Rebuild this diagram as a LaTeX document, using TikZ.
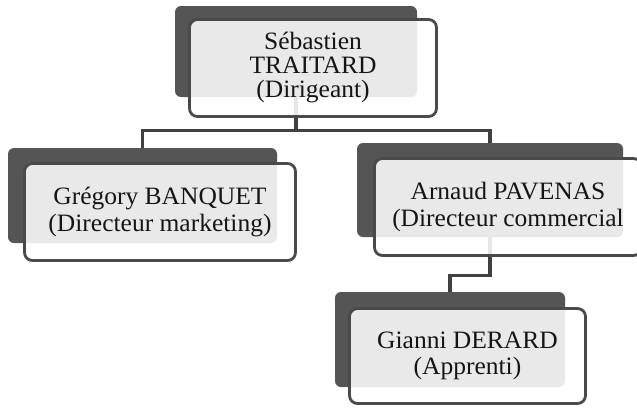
\documentclass[tikz,border=0pt]{standalone}
\usepackage{fontspec}
\setmainfont{Liberation Serif}[FakeStretch=1.02]
\begin{document}
\begin{tikzpicture}[x=1pt,y=-1pt,
  backbox/.style={draw=none, fill=backgray, rounded corners=6pt, inner sep=0pt},
  frontbox/.style={draw=linegray, line width=2.8pt, rounded corners=8pt, fill=white,
     fill opacity=0.87, text opacity=1, inner sep=0pt, align=center,
     font=\fontsize{25}{26.5}\selectfont, text=textgray},
  link/.style={draw=linkgray, line width=3.2pt}
]
\definecolor{backgray}{HTML}{555555}
\definecolor{linegray}{HTML}{4A4A4A}
\definecolor{linkgray}{HTML}{404040}
\definecolor{textgray}{HTML}{151515}
\useasboundingbox (0,0) rectangle (637,408);
% back boxes
\node[backbox, minimum width=242pt, minimum height=91pt] (b1) at (296,51.5) {};
\node[backbox, minimum width=269pt, minimum height=95pt] (b2) at (142.5,195.5) {};
\node[backbox, minimum width=266pt, minimum height=94pt] (b3) at (490,190) {};
\node[backbox, minimum width=230pt, minimum height=95pt] (b4) at (450,339.5) {};
% connectors
\draw[link] (b1.south) -- ++(0,33) -| (b2.north);
\draw[link] (b1.south) -- ++(0,33) -| (b3.north);
\draw[link] (b3.south) -- ++(0,38) -| (b4.north);
% front boxes
\node[frontbox, minimum width=247pt, minimum height=97pt, font=\fontsize{25}{24}\selectfont] (f1) at (313,68) {Sébastien\\TRAITARD\\(Dirigeant)};
\node[frontbox, minimum width=271pt, minimum height=97pt] (f2) at (160,212) {Grégory BANQUET\\(Directeur marketing)};
\node[frontbox, minimum width=267pt, minimum height=97pt] (f3) at (508,207) {Arnaud PAVENAS\\(Directeur commercial};
\node[frontbox, minimum width=236pt, minimum height=95pt] (f4) at (467.5,356) {Gianni DERARD\\(Apprenti)};
\end{tikzpicture}
\end{document}
